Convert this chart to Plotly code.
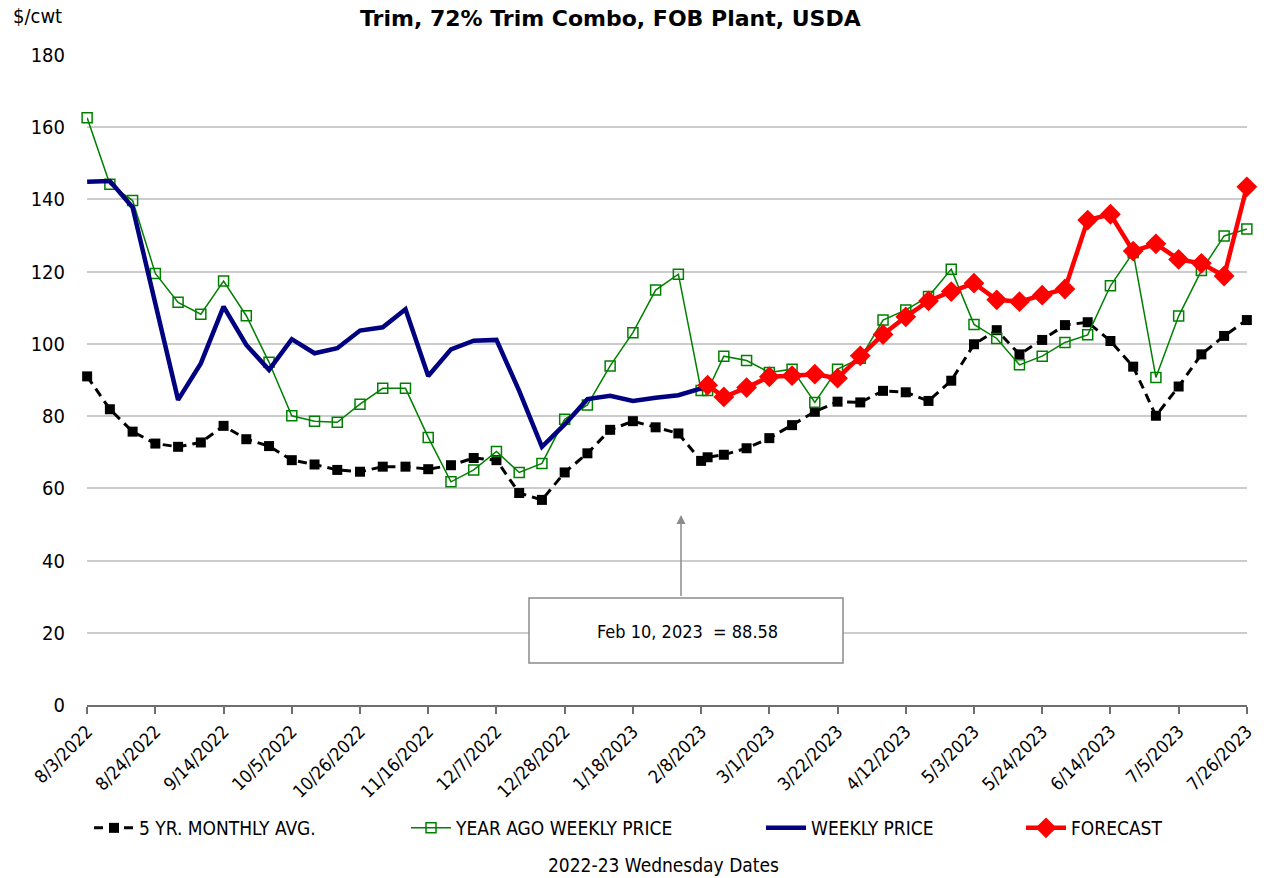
import pandas as pd
import plotly.graph_objects as go

# ---------------- data ----------------
weekly_dates = list(pd.date_range("2022-08-03", periods=52, freq="7D"))
extra_date = pd.Timestamp("2023-02-10")
all_dates = weekly_dates[:28] + [extra_date] + weekly_dates[28:]

five_yr_avg = [91.0, 81.9, 75.7, 72.4, 71.5, 72.7, 77.3, 73.6, 71.7, 67.8,
               66.6, 65.1, 64.6, 66.0, 66.0, 65.3, 66.4, 68.4, 67.8, 58.7,
               56.8, 64.4, 69.7, 76.2, 78.6, 76.9, 75.2, 67.6, 68.6, 69.3,
               71.1, 73.9, 77.5, 81.2, 84.0, 83.8, 87.0, 86.6, 84.2, 89.8,
               99.9, 103.8, 97.1, 101.1, 105.2, 106.0, 100.8, 93.7, 80.1, 88.2,
               97.1, 102.2, 106.6]

year_ago = [162.6, 144.2, 139.7, 119.5, 111.5, 108.2, 117.4, 107.8, 94.9, 80.1,
            78.6, 78.3, 83.3, 87.7, 87.7, 74.1, 61.8, 65.1, 70.2, 64.4,
            66.9, 79.1, 83.1, 93.9, 103.1, 114.9, 119.3, 87.1, 87.1, 96.6,
            95.4, 92.1, 93.0, 83.8, 93.0, 96.0, 106.6, 109.4, 113.1, 120.7,
            105.4, 101.5, 94.2, 96.6, 100.4, 102.5, 116.1, 125.3, 90.7, 107.7,
            120.3, 129.9, 131.8]

weekly_price = [144.9, 145.1, 137.8, 111.0, 84.5, 94.6, 110.3, 99.7, 92.8, 101.3,
                97.4, 98.8, 103.7, 104.6, 109.6, 91.1, 98.5, 100.9, 101.1, 87.0,
                71.5, 77.7, 84.7, 85.6, 84.2, 85.1, 85.8, 87.7, 88.58]
weekly_dates_used = all_dates[:29]

forecast = [88.58, 85.3, 87.9, 90.9, 91.2, 91.6, 90.5, 96.7, 102.6, 107.5,
            111.9, 114.5, 116.8, 112.2, 111.7, 113.5, 115.2, 134.3, 135.9, 125.7,
            127.7, 123.4, 122.3, 118.8, 143.5]
forecast_dates = all_dates[28:]

tick_dates = weekly_dates[::3]
tick_labels = [f"{d.month}/{d.day}/{d.year}" for d in tick_dates]

FONT = "DejaVu Sans Condensed, DejaVu Sans, sans-serif"
FONT_WIDE = "DejaVu Sans, sans-serif"

# ---------------- figure ----------------
fig = go.Figure()

fig.add_trace(go.Scatter(
    x=all_dates, y=five_yr_avg, name="5 YR. MONTHLY AVG.", mode="lines+markers",
    line=dict(color="#000000", width=3, dash="9px,6px"),
    marker=dict(symbol="square", size=10, color="#000000"),
    cliponaxis=False, legend="legend"))

fig.add_trace(go.Scatter(
    x=all_dates, y=year_ago, name="YEAR AGO WEEKLY PRICE", mode="lines+markers",
    line=dict(color="#008000", width=1.5),
    marker=dict(symbol="square-open", size=10, color="#008000", line=dict(width=1.5)),
    cliponaxis=False, legend="legend2"))

fig.add_trace(go.Scatter(
    x=weekly_dates_used, y=weekly_price, name="WEEKLY PRICE", mode="lines",
    line=dict(color="#000080", width=4.5),
    cliponaxis=False, legend="legend3"))

fig.add_trace(go.Scatter(
    x=forecast_dates, y=forecast, name="FORECAST", mode="lines+markers",
    line=dict(color="#FF0000", width=4.5),
    marker=dict(symbol="diamond", size=16, color="#FF0000"),
    cliponaxis=False, legend="legend4"))

W, H = 1264, 878
L, R, T, B = 87, 1247, 55, 705


def px(xp):
    return (xp - L) / (R - L)


def py(yp):
    return (B - yp) / (B - T)


legend_common = dict(orientation="h", yanchor="middle", xanchor="left",
                     font=dict(family=FONT, size=19, color="#000000"),
                     bgcolor="rgba(0,0,0,0)", itemwidth=40)

x_start = weekly_dates[0] - pd.Timedelta(hours=1)
x_end = weekly_dates[-1] + pd.Timedelta(hours=1)

fig.update_layout(
    width=W, height=H,
    margin=dict(l=L, r=W - R, t=T, b=H - B, autoexpand=False),
    paper_bgcolor="white", plot_bgcolor="white",
    font=dict(family=FONT, color="#000000"),
    showlegend=True,
    legend=dict(x=px(89), y=py(828), **legend_common),
    legend2=dict(x=px(406), y=py(828), **legend_common),
    legend3=dict(x=px(761), y=py(828), **legend_common),
    legend4=dict(x=px(1021), y=py(828), **legend_common),
    xaxis=dict(
        type="date",
        range=[x_start, x_end],
        tickvals=tick_dates, ticktext=tick_labels,
        tickangle=-45, tickfont=dict(family=FONT, size=18, color="#000000"),
        ticks="outside", ticklen=7, tickwidth=1.5, tickcolor="#6E6E6E",
        showline=True, linecolor="#6E6E6E", linewidth=2,
        showgrid=False, zeroline=False, automargin=False,
    ),
    yaxis=dict(
        range=[0, 180], dtick=20, tick0=0,
        tickfont=dict(family=FONT, size=20, color="#000000"),
        showgrid=True, gridcolor="#CCCCCC", gridwidth=1.5,
        zeroline=False, showline=False, ticks="",
        ticklabelstandoff=21, automargin=False,
    ),
)

# title, unit and x axis title
fig.add_annotation(text="<b>Trim, 72% Trim Combo, FOB Plant, USDA</b>",
                   xref="paper", yref="paper", x=px(610), y=py(18),
                   xanchor="center", yanchor="middle", showarrow=False,
                   font=dict(family=FONT_WIDE, size=22, color="#000000"))
fig.add_annotation(text="$/cwt", xref="paper", yref="paper", x=px(11), y=py(16),
                   xanchor="left", yanchor="middle", showarrow=False,
                   font=dict(family=FONT, size=20, color="#000000"))
fig.add_annotation(text="2022-23 Wednesday Dates", xref="paper", yref="paper",
                   x=px(663), y=py(865), xanchor="center", yanchor="middle",
                   showarrow=False, font=dict(family=FONT, size=19, color="#000000"))

# callout box
fig.add_shape(type="rect", xref="paper", yref="paper",
              x0=px(529), x1=px(843), y0=py(663), y1=py(598),
              line=dict(color="#8C8C8C", width=1.5), fillcolor="white")
fig.add_annotation(text="Feb 10, 2023  = 88.58", xref="paper", yref="paper",
                   x=px(687), y=py(631), xanchor="center", yanchor="middle",
                   showarrow=False, font=dict(family=FONT, size=18, color="#000000"))
fig.add_annotation(text=" ", xref="paper", yref="paper", x=px(681), y=py(515),
                   showarrow=True, ax=0, ay=83, arrowhead=2, arrowsize=1.2,
                   arrowwidth=1.5, arrowcolor="#8C8C8C", standoff=0, startstandoff=0,
                   font=dict(size=1))

fig.write_html(
    "out.html",
    config={"displayModeBar": False},
    post_script="document.body.style.margin='0';document.body.style.overflow='hidden';",
)
